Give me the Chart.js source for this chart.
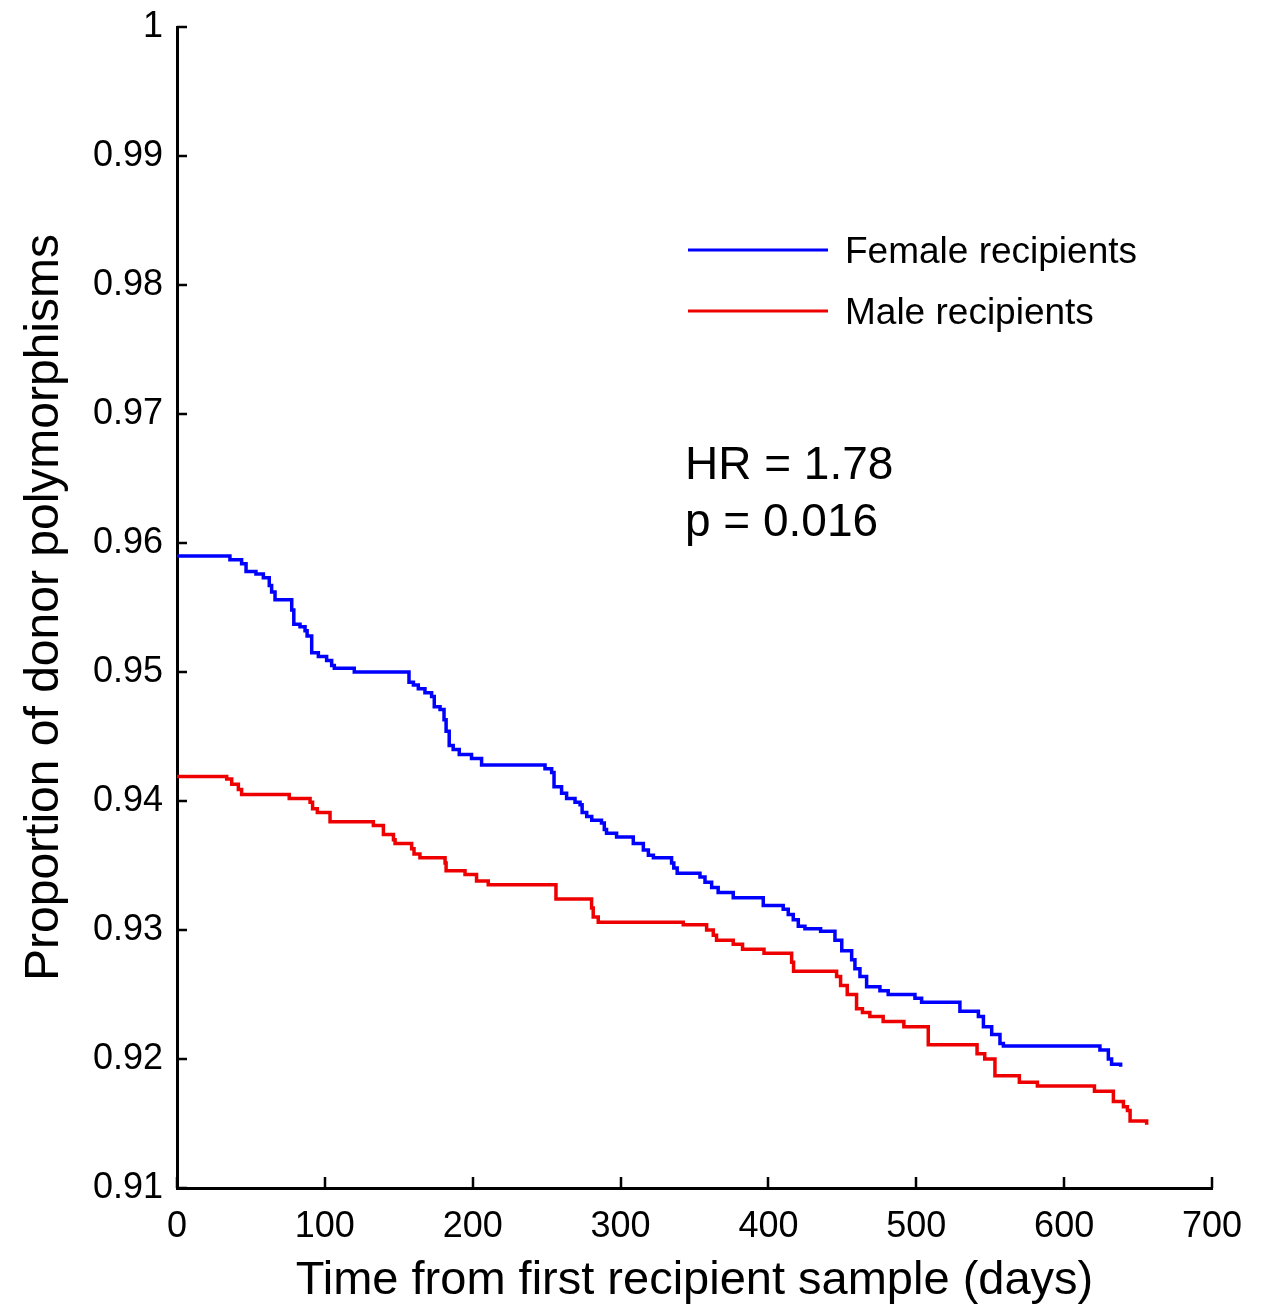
<!DOCTYPE html>
<html>
<head>
<meta charset="utf-8">
<script src="https://cdn.jsdelivr.net/npm/chart.js@4.4.0/dist/chart.umd.min.js"></script>
<style>
  html, body { margin: 0; padding: 0; background: #fff; }
  #wrap { width: 1271px; height: 1304px; }
</style>
</head>
<body>
<div id="wrap"><canvas id="canvas" width="1271" height="1304"></canvas></div>
<script>
// Kaplan-Meier style steps
var femaleDays = [0, 35.8, 43.7, 46.7, 53.4, 58.4, 62.4, 64, 66.3, 77.6, 79, 83.2, 86.6, 88, 91.1, 95.6,
    101.2, 104.6, 106.4, 119.9, 156.9, 159.9, 163.2, 167.7, 172.2, 174, 177.9, 180.6, 182, 184.1, 186.8,
    190.9, 199.2, 206, 248.9, 253.4, 255, 260.1, 263.5, 269.2, 272.6, 274, 277.1, 280.5, 287.1, 289,
    290.5, 297.3, 308.6, 315.4, 318.8, 322.2, 334.5, 336, 338.3, 353.7, 357.1, 361.6, 366, 376.2, 396.5,
    410, 413.4, 416.8, 420.2, 424.7, 435.3, 445, 449.6, 456.3, 458.5, 461.9, 466.4, 475.4, 481, 499.1,
    503.6, 529.5, 542, 545.4, 551, 556.6, 558.9, 624.2, 629.9, 632.1, 638.2];
var femaleProp = [0.9590, 0.9587, 0.9584, 0.9578, 0.9576, 0.9573, 0.9567, 0.9562, 0.9556, 0.9548, 0.9537,
    0.9535, 0.9532, 0.9528, 0.9515, 0.9512, 0.9509, 0.9505, 0.9503, 0.9500, 0.9492, 0.9490, 0.9487,
    0.9484, 0.9481, 0.9473, 0.9471, 0.9463, 0.9454, 0.9443, 0.9440, 0.9436, 0.9433, 0.9428, 0.9425,
    0.9422, 0.9411, 0.9406, 0.9402, 0.9399, 0.9397, 0.9391, 0.9388, 0.9385, 0.9383, 0.9378, 0.9375,
    0.9372, 0.9367, 0.9362, 0.9358, 0.9356, 0.9352, 0.9348, 0.9344, 0.9341, 0.9337, 0.9333, 0.9329,
    0.9325, 0.9319, 0.9316, 0.9312, 0.9308, 0.9303, 0.9301, 0.9299, 0.9292, 0.9284, 0.9277, 0.9270,
    0.9264, 0.9256, 0.9253, 0.9250, 0.9247, 0.9244, 0.9237, 0.9233, 0.9225, 0.9219, 0.9212, 0.9210,
    0.9207, 0.9200, 0.9196, 0.9194];

var maleDays = [0, 33.6, 37, 41.5, 43.7, 75.9, 90, 91.7, 94.9, 103.5, 132.8, 139.6, 146.4, 147.5, 158.7,
    160.3, 164.3, 181.3, 182, 194.8, 202.6, 210.5, 256.3, 280.4, 281.5, 284.9, 342.4, 358.2, 362.7,
    364.9, 376.2, 382.5, 397, 415.7, 417, 446.1, 448.8, 453.3, 459.6, 463.6, 468.6, 477.6, 491.6, 508.1,
    541.1, 546.3, 553.2, 569.7, 581.9, 620.5, 633.3, 640.1, 642.8, 644.6, 655.8];
var maleProp = [0.9419, 0.9417, 0.9413, 0.9409, 0.9405, 0.9402, 0.9399, 0.9394, 0.9391, 0.9384, 0.9381,
    0.9374, 0.9370, 0.9367, 0.9363, 0.9359, 0.9356, 0.9352, 0.9346, 0.9343, 0.9338, 0.9335, 0.9324,
    0.9317, 0.9310, 0.9306, 0.9304, 0.9300, 0.9296, 0.9292, 0.9289, 0.9285, 0.9282, 0.9275, 0.9268,
    0.9264, 0.9257, 0.9250, 0.9239, 0.9236, 0.9233, 0.9229, 0.9225, 0.9211, 0.9204, 0.9200, 0.9187,
    0.9182, 0.9179, 0.9175, 0.9167, 0.9163, 0.9160, 0.9152, 0.9149];

var seriesNames = ["Female recipients", "Male recipients"];
var seriesColors = ["#0000ff", "#ee0000"];
var statLines = ["HR = 1.78", "p = 0.016"];

var xTicks = [0, 100, 200, 300, 400, 500, 600, 700];
var yTicks = [0.91, 0.92, 0.93, 0.94, 0.95, 0.96, 0.97, 0.98, 0.99, 1];

var fontFamily = "'Liberation Sans', Arial, sans-serif";

function toPoints(xs, ys) {
    return xs.map(function (x, i) { return {x: x, y: ys[i]}; });
}

// inward tick marks, legend and HR text
var extras = {
    id: "extras",
    afterDraw: function (chart) {
        var ctx = chart.ctx;
        var xs = chart.scales.x, ys = chart.scales.y;
        var area = chart.chartArea;
        ctx.save();
        ctx.strokeStyle = "#000";
        ctx.lineWidth = 2.5;
        ctx.beginPath();
        xTicks.forEach(function (v) {
            var px = Math.round(xs.getPixelForValue(v));
            ctx.moveTo(px, area.bottom);
            ctx.lineTo(px, area.bottom - 11);
        });
        yTicks.forEach(function (v) {
            var py = Math.round(ys.getPixelForValue(v));
            ctx.moveTo(area.left, py);
            ctx.lineTo(area.left + 10, py);
        });
        ctx.stroke();

        // legend
        var legY = [250, 311];
        ctx.lineWidth = 3;
        ctx.font = "37px " + fontFamily;
        ctx.textBaseline = "middle";
        ctx.textAlign = "left";
        seriesNames.forEach(function (name, i) {
            ctx.strokeStyle = seriesColors[i];
            ctx.beginPath();
            ctx.moveTo(688, legY[i]);
            ctx.lineTo(828, legY[i]);
            ctx.stroke();
            ctx.fillStyle = "#000";
            ctx.fillText(name, 845, legY[i] + 3);
        });

        ctx.font = "46px " + fontFamily;
        ctx.fillText(statLines[0], 685, 466);
        ctx.fillText(statLines[1], 685, 523);
        ctx.restore();
    }
};

var chartData = {
    datasets: [
        {
            label: seriesNames[0],
            data: toPoints(femaleDays, femaleProp),
            borderColor: seriesColors[0],
            borderWidth: 3.5,
            stepped: true,
            pointRadius: 0,
            fill: false
        },
        {
            label: seriesNames[1],
            data: toPoints(maleDays, maleProp),
            borderColor: seriesColors[1],
            borderWidth: 3.5,
            stepped: true,
            pointRadius: 0,
            fill: false
        }
    ]
};

var opt = {
    responsive: false,
    animation: false,
    devicePixelRatio: 1,
    layout: { padding: { left: 0, right: 59, top: 27, bottom: 0 } },
    plugins: {
        legend: { display: false },
        tooltip: { enabled: false }
    },
    scales: {
        x: {
            type: "linear",
            min: 0,
            max: 700,
            afterFit: function (scale) {
                scale.height = 116;
                scale.paddingLeft = 0;
                scale.paddingRight = 0;
            },
            afterBuildTicks: function (scale) {
                scale.ticks = xTicks.map(function (v) { return {value: v}; });
            },
            ticks: {
                color: "#000",
                font: { family: fontFamily, size: 36 },
                padding: 17,
                maxRotation: 0
            },
            grid: { drawOnChartArea: false, drawTicks: false },
            border: { display: true, color: "#000", width: 3 },
            title: {
                display: true,
                text: "Time from first recipient sample (days)",
                color: "#000",
                font: { family: fontFamily, size: 47, lineHeight: 1 },
                padding: { top: 0, bottom: -1 }
            }
        },
        y: {
            type: "linear",
            min: 0.91,
            max: 1,
            afterFit: function (scale) {
                scale.width = 177;
                scale.paddingTop = 0;
                scale.paddingBottom = 0;
            },
            afterBuildTicks: function (scale) {
                scale.ticks = yTicks.map(function (v) { return {value: v}; });
            },
            ticks: {
                color: "#000",
                font: { family: fontFamily, size: 36 },
                padding: 14,
                callback: function (v) { return String(parseFloat(v.toFixed(2))); }
            },
            grid: { drawOnChartArea: false, drawTicks: false },
            border: { display: true, color: "#000", width: 3 },
            title: {
                display: true,
                text: "Proportion of donor polymorphisms",
                color: "#000",
                font: { family: fontFamily, size: 48, lineHeight: 1 },
                padding: { top: 21, bottom: 0 }
            }
        }
    }
};

var ctx = document.getElementById("canvas").getContext("2d");
new Chart(ctx, {
    type: "line",
    data: chartData,
    options: opt,
    plugins: [extras]
});
</script>
</body>
</html>
